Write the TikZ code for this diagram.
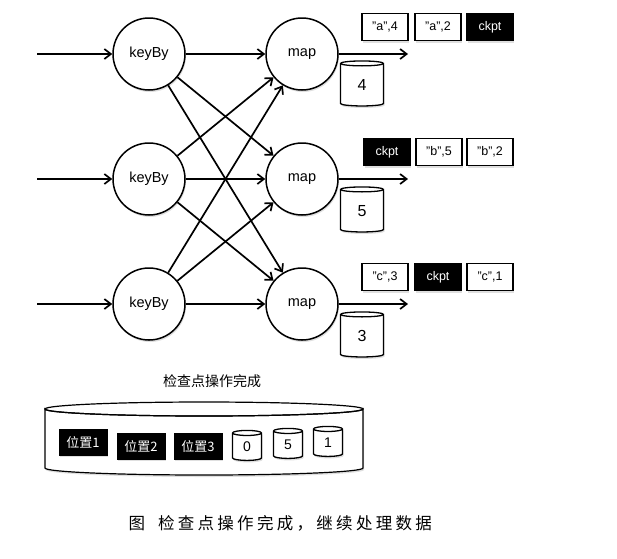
\documentclass[tikz,border=0pt]{standalone}
\usepackage{fontspec}
\setmainfont{Liberation Sans}
\newfontfamily\cjk{Noto Sans CJK SC}
\newfontfamily\cjkcap[LetterSpace=20]{Noto Sans CJK SC}
\usetikzlibrary{shapes.geometric}
\usetikzlibrary{arrows.meta}
\usetikzlibrary{shadows}

\begin{document}
\begin{tikzpicture}[x=1pt,y=-1pt,
  shade/.style={drop shadow={opacity=0.25,shadow xshift=1pt,shadow yshift=-2pt}},
  op/.style={circle,draw,line width=1.5pt,fill=white,shade,minimum size=72pt,inner sep=0pt,font=\fontsize{14.5}{16}\selectfont},
  flow/.style={line width=1.7pt,-{Straight Barb[length=6.5pt,width=10pt]}},
  rec/.style={draw,line width=1.2pt,fill=white,shade,minimum width=46pt,minimum height=27pt,inner sep=0pt,font=\fontsize{12.5}{14}\selectfont},
  ckptbox/.style={rec,fill=black,text=white},
  store/.style={cylinder,shape border rotate=90,draw,line width=1.3pt,fill=white,shade,aspect=0.55,minimum width=43pt,minimum height=45pt,inner sep=0pt,font=\fontsize{16}{18}\selectfont},
  minstore/.style={store,aspect=0.65,minimum width=29pt,minimum height=30pt,font=\fontsize{14}{16}\selectfont},
  posbox/.style={draw=black,fill=black,text=white,shade,minimum width=48pt,minimum height=26pt,inner sep=0pt,font=\cjk\fontsize{13}{15}\selectfont}]
\useasboundingbox (0,0) rectangle (617,558);

% operators
\foreach \i/\y in {1/54,2/179,3/304} {
  \coordinate (in\i) at (37,\y);
  \coordinate (out\i) at (408,\y);
  \node[op] (k\i) at (149,\y) {keyBy};
  \node[op] (m\i) at (302,\y) {map};
}
\foreach \i in {1,2,3} {
  \draw[flow] (in\i) -- (k\i);
  \draw[flow] (m\i) -- (out\i);
  \foreach \j in {1,2,3}
    \draw[flow] (k\i) -- (m\j);
}

% state of each map
\node[store] (s1) at (362,85) {4};
\node[store] (s2) at (362,211) {5};
\node[store] (s3) at (362,336) {3};

% records in the streams
\node[rec] (r11) at (385,27) {"a",4};
\node[rec] (r12) at (438,27) {"a",2};
\node[ckptbox] (r13) at (490,27) {ckpt};
\node[ckptbox] (r21) at (387,152) {ckpt};
\node[rec] (r22) at (439,152) {"b",5};
\node[rec] (r23) at (490,152) {"b",2};
\node[rec] (r31) at (385,277) {"c",3};
\node[ckptbox] (r32) at (438,277) {ckpt};
\node[rec] (r33) at (490,277) {"c",1};

% checkpoint store
\node[font=\cjk\fontsize{14}{16}\selectfont] (done) at (212,381) {检查点操作完成};
\coordinate (db) at (204,409);
\filldraw[line width=1.2pt,fill=white,shade] (45,409) -- (45,468)
  arc[start angle=180,end angle=0,x radius=159,y radius=7] -- (363,409)
  arc[start angle=0,end angle=180,x radius=159,y radius=7] -- cycle;
\draw[line width=1.2pt] (db) ellipse[x radius=159,y radius=7];
\node[posbox] (p1) at (83,442) {位置1};
\node[posbox] (p2) at (141,446) {位置2};
\node[posbox] (p3) at (198,446) {位置3};
\node[minstore] (c1) at (247,447) {0};
\node[minstore] (c2) at (288,445) {5};
\node[minstore] (c3) at (328,443) {1};

\node[font=\cjkcap\fontsize{16.5}{18}\selectfont,anchor=west] (cap) at (125,523) {图\hspace{13pt}检查点操作完成，继续处理数据};
\end{tikzpicture}
\end{document}
